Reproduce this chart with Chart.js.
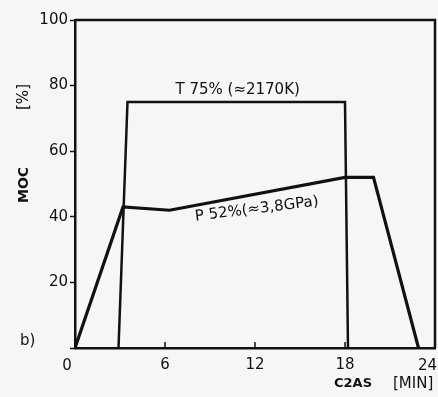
<!DOCTYPE html>
<html>
<head>
<meta charset="utf-8">
<script src="https://cdn.jsdelivr.net/npm/chart.js@4/dist/chart.umd.min.js"></script>
<style>
  html, body { margin: 0; padding: 0; background: #f6f6f4; }
  #wrap { width: 438px; height: 397px; position: relative; }
</style>
</head>
<body>
<div id="wrap"><canvas id="powerChart" width="438" height="397"></canvas></div>
<script>
// values (time in min, power in %)
const xTicks = [0, 6, 12, 18, 24];
const yTicks = [0, 20, 40, 60, 80, 100];
const tempTime = [2.9, 3.5, 18.0, 18.2];
const tempValue = [0, 75, 75, 0];
const pressTime = [0, 3.2, 6.3, 18.0, 19.9, 22.9];
const pressValue = [0, 43, 42, 52, 52, 0];

const labelT = 'T 75% (≈2170K)';
const labelP = 'P 52%(≈3,8GPa)';

const ink = '#111';
const font = "'DejaVu Sans', sans-serif";

function toPoints(xs, ys) {
    return xs.map(function(x, i) { return { x: x, y: ys[i] }; });
}

// frame, inward x ticks and hand lettering
const decorations = {
    id: 'decorations',
    afterDraw: function(chart) {
        const ctx = chart.ctx;
        const area = chart.chartArea;
        const xs = chart.scales.x;
        const ys = chart.scales.y;
        ctx.save();
        ctx.strokeStyle = ink;
        ctx.lineWidth = 2.5;
        ctx.beginPath();
        ctx.moveTo(area.left, area.top);
        ctx.lineTo(area.right, area.top);
        ctx.lineTo(area.right, area.bottom);
        ctx.stroke();

        ctx.lineWidth = 1.5;
        [6, 12, 18].forEach(function(v) {
            const px = xs.getPixelForValue(v);
            ctx.beginPath();
            ctx.moveTo(px, area.bottom);
            ctx.lineTo(px, area.bottom - 6);
            ctx.stroke();
        });

        // end labels of the time axis sit off their ticks in the original
        ctx.fillStyle = ink;
        ctx.font = '15px ' + font;
        ctx.textBaseline = 'middle';
        ctx.textAlign = 'center';
        ctx.fillText(String(xTicks[0]), xs.getPixelForValue(xTicks[0]) - 8, area.bottom + 18);
        ctx.textAlign = 'right';
        ctx.fillText(String(xTicks[xTicks.length - 1]), 437, area.bottom + 18);

        ctx.textAlign = 'left';
        ctx.fillText(labelT, xs.getPixelForValue(6.7), ys.getPixelForValue(78.5));

        ctx.save();
        ctx.translate(xs.getPixelForValue(8.0), ys.getPixelForValue(40));
        ctx.rotate(-7 * Math.PI / 180);
        ctx.fillText(labelP, 0, 0);
        ctx.restore();

        ctx.fillText('b)', 20, 341);
        ctx.font = 'bold 13px ' + font;
        ctx.fillText('C2AS', 334, 384);
        ctx.font = '15px ' + font;
        ctx.fillText('[MIN]', 393, 384);

        ctx.save();
        ctx.translate(24, 97);
        ctx.rotate(-Math.PI / 2);
        ctx.textAlign = 'center';
        ctx.fillText('[%]', 0, 0);
        ctx.restore();

        ctx.save();
        ctx.translate(24, 185);
        ctx.rotate(-Math.PI / 2);
        ctx.textAlign = 'center';
        ctx.font = 'bold 14px ' + font;
        ctx.fillText('MOC', 0, 0);
        ctx.restore();
        ctx.restore();
    }
};

const ctxPower = document.getElementById('powerChart').getContext('2d');
const powerChart = new Chart(ctxPower, {
    type: 'scatter',
    data: {
        datasets: [{
            label: 'T',
            data: toPoints(tempTime, tempValue),
            showLine: true,
            borderColor: ink,
            borderWidth: 2.5,
            pointRadius: 0,
            tension: 0,
        }, {
            label: 'P',
            data: toPoints(pressTime, pressValue),
            showLine: true,
            borderColor: ink,
            borderWidth: 3.2,
            pointRadius: 0,
            tension: 0,
        }]
    },
    options: {
        responsive: false,
        animation: false,
        layout: {
            padding: { left: 0, right: 3, top: 20, bottom: 0 }
        },
        scales: {
            x: {
                type: 'linear',
                min: 0,
                max: 24,
                afterBuildTicks: function(scale) {
                    scale.ticks = xTicks.map(function(v) { return { value: v }; });
                },
                afterFit: function(scale) {
                    scale.height = 49;
                    scale.paddingLeft = 0;
                    scale.paddingRight = 0;
                },
                grid: {
                    display: true,
                    drawOnChartArea: false,
                    drawTicks: false,
                },
                border: { color: ink, width: 2.5 },
                ticks: {
                    color: ink,
                    padding: 8,
                    maxRotation: 0,
                    font: { family: font, size: 15 },
                    callback: function(v) { return (v === 0 || v === 24) ? '' : v; },
                },
            },
            y: {
                min: 0,
                max: 100,
                afterBuildTicks: function(scale) {
                    scale.ticks = yTicks.map(function(v) { return { value: v }; });
                },
                afterFit: function(scale) { scale.width = 75; },
                grid: {
                    drawOnChartArea: false,
                    drawTicks: true,
                    tickLength: 5,
                    tickWidth: 1.5,
                    color: ink,
                },
                border: { color: ink, width: 2.5 },
                ticks: {
                    color: ink,
                    padding: 2,
                    font: { family: font, size: 15 },
                    callback: function(v) { return v === 0 ? '' : v; },
                },
            }
        },
        plugins: {
            legend: { display: false },
            tooltip: { enabled: false },
        }
    },
    plugins: [decorations]
});
</script>
</body>
</html>
